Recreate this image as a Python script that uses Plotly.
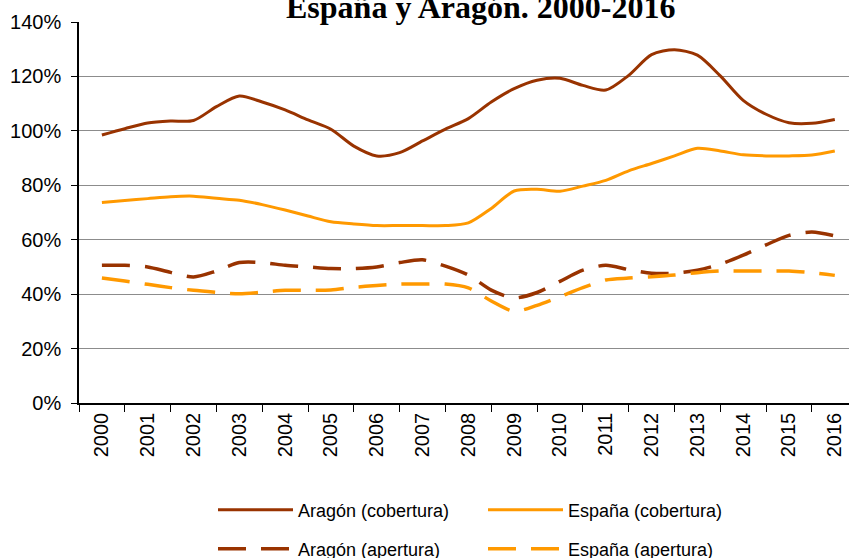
import plotly.graph_objects as go

periods = [2000 + 0.5 * i for i in range(33)]
year_labels = [str(y) for y in range(2000, 2017)]

aragon_cobertura = [98.5, 100.8, 102.9, 103.6, 103.8, 108.9, 112.8, 110.6, 107.7, 104.0,
                    100.6, 94.4, 90.8, 92.0, 96.3, 100.6, 104.5, 110.6, 115.5, 118.6,
                    119.3, 116.7, 115.0, 120.4, 128.0, 129.8, 127.8, 120.2, 111.2, 106.1,
                    103.0, 102.8, 104.2]
espana_cobertura = [73.7, 74.4, 75.1, 75.8, 76.0, 75.2, 74.5, 72.9, 70.9, 68.7,
                    66.6, 65.8, 65.2, 65.2, 65.2, 65.2, 66.2, 71.5, 77.9, 78.5,
                    77.8, 79.7, 81.8, 85.3, 88.0, 90.8, 93.6, 92.6, 91.2, 90.8,
                    90.8, 91.1, 92.6]
aragon_apertura = [50.6, 50.6, 50.0, 48.0, 46.3, 48.5, 51.6, 51.6, 50.6, 50.0,
                   49.4, 49.4, 50.0, 51.6, 52.6, 50.3, 47.0, 41.5, 38.6, 40.6,
                   44.7, 48.8, 50.6, 49.0, 47.7, 47.7, 48.8, 51.0, 54.3, 58.1,
                   61.6, 62.8, 61.4]
espana_apertura = [45.9, 44.8, 43.6, 42.4, 41.4, 40.7, 40.1, 40.7, 41.4, 41.4,
                   41.5, 42.5, 43.2, 43.7, 43.7, 43.7, 42.3, 37.5, 33.7, 35.9,
                   39.1, 42.4, 45.2, 45.9, 46.4, 47.0, 47.9, 48.5, 48.5, 48.5,
                   48.5, 47.9, 46.9]

DARK = "#993300"
ORANGE = "#FF9900"
FONT = "Liberation Sans, Arial, sans-serif"

fig = go.Figure()
fig.add_trace(go.Scatter(x=periods, y=aragon_cobertura, name="Aragón (cobertura)", mode="lines",
                         line=dict(color=DARK, width=3, shape="spline", smoothing=0.8), legend="legend"))
fig.add_trace(go.Scatter(x=periods, y=espana_cobertura, name="España (cobertura)", mode="lines",
                         line=dict(color=ORANGE, width=3, shape="spline", smoothing=0.8), legend="legend"))
fig.add_trace(go.Scatter(x=periods, y=aragon_apertura, name="Aragón (apertura)", mode="lines",
                         line=dict(color=DARK, width=3.5, shape="spline", smoothing=0.8, dash="28px,15px"),
                         legend="legend2"))
fig.add_trace(go.Scatter(x=periods, y=espana_apertura, name="España (apertura)", mode="lines",
                         line=dict(color=ORANGE, width=3.5, shape="spline", smoothing=0.8, dash="28px,15px"),
                         legend="legend2"))

legend_common = dict(orientation="h", xref="container", yref="container", x=213 / 849, xanchor="left",
                     yanchor="middle", font=dict(family=FONT, size=18, color="#000000"),
                     itemwidth=75, entrywidth=180, entrywidthmode="pixels",
                     bgcolor="rgba(0,0,0,0)", tracegroupgap=0)

fig.update_layout(
    width=849, height=558,
    margin=dict(l=79, r=0, t=22, b=155),
    paper_bgcolor="white", plot_bgcolor="white",
    showlegend=True,
    legend=dict(legend_common, y=1 - 510 / 558),
    legend2=dict(legend_common, y=1 - 549 / 558),
    annotations=[dict(text="<b>España y Aragón. 2000-2016</b>", xref="paper", yref="paper",
                      x=0.5208, y=1.0394, xanchor="center", yanchor="middle", showarrow=False,
                      font=dict(family="Liberation Serif, Times New Roman, serif", size=32, color="#000000"))],
)

fig.update_xaxes(
    range=[1999.5, 2016.31], tickmode="array", tickvals=list(range(2000, 2017)), ticktext=year_labels,
    tickangle=-90, ticks="", showgrid=False, zeroline=False,
    showline=True, linecolor="#000000", linewidth=1.5,
    tickfont=dict(family=FONT, size=20, color="#000000"),
    minor=dict(tickmode="linear", tick0=1999.5, dtick=1, ticks="outside", ticklen=7,
               tickcolor="#000000", tickwidth=1, showgrid=False),
)
fig.update_yaxes(
    range=[0, 140], dtick=20, ticksuffix="%", ticks="outside", ticklen=6, tickcolor="#000000",
    showline=True, linecolor="#000000", linewidth=1.5,
    showgrid=True, gridcolor="#8c8c8c", gridwidth=1, zeroline=False,
    tickfont=dict(family=FONT, size=20, color="#000000"), ticklabelstandoff=6,
)

fig.write_html("out.html", config={"displayModeBar": False},
               post_script="document.body.style.margin='0';document.body.style.overflow='hidden';")
